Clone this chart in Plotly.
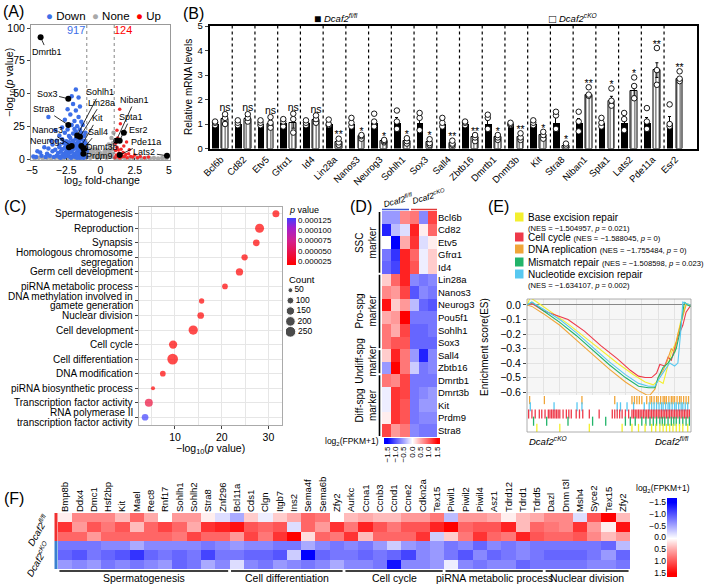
import plotly.graph_objects as go

W, H = 709, 584
FONT = "Liberation Sans, Arial, sans-serif"


def fx(x):
    return x / W


def fy(y):
    return 1 - y / H


def xd(a, b):
    return [a / W, b / W]


def yd(top, bottom):
    return [1 - bottom / H, 1 - top / H]


BLUE = "#3d6fe8"
RED = "#f42a2a"
GREY = "#a9a9a9"
HEAT = [[0, "#0000ff"], [0.5, "#ffffff"], [1, "#ff0000"]]
FLFL = "<i>Dcaf2</i><sup><i>fl/fl</i></sup>"
CKO = "<i>Dcaf2</i><sup><i>cKO</i></sup>"

# ---------------- (A) volcano ----------------
down_pts = [(-4.7, 1.5), (-4.3, 2.5), (-4.0, 1.5), (-3.7, 2.5), (-3.4, 1.5), (-3.2, 2.5), (-3.0, 1.5), (-2.8, 2.5),
            (-2.6, 1.5), (-2.4, 2.5), (-2.2, 1.5), (-2.0, 2.5), (-1.8, 1.5), (-1.6, 2.5), (-1.4, 1.5), (-1.2, 2.5),
            (-1.05, 1.5), (-4.4, 5), (-3.9, 4), (-3.5, 6), (-3.1, 4.5), (-2.9, 5.5), (-2.7, 4), (-2.5, 6),
            (-2.3, 4.5), (-2.1, 5.5), (-1.9, 4), (-1.7, 6), (-1.5, 4.5), (-1.3, 5.5), (-1.1, 4), (-3.8, 8),
            (-3.3, 7), (-3.0, 9), (-2.8, 7.5), (-2.6, 8.5), (-2.4, 7), (-2.2, 9), (-2.0, 7.5), (-1.8, 8.5),
            (-1.6, 7), (-1.4, 9), (-1.2, 7.5), (-1.05, 8.5), (-3.5, 11), (-3.0, 10.5), (-2.7, 12), (-2.5, 10),
            (-2.3, 11.5), (-2.1, 10.5), (-1.9, 12), (-1.7, 10), (-1.5, 11.5), (-1.3, 10.5), (-1.1, 12),
            (-3.2, 14), (-2.8, 15), (-2.5, 13.5), (-2.2, 16), (-2.0, 14), (-1.8, 15.5), (-1.6, 13.5), (-1.4, 15),
            (-1.2, 14), (-3.0, 18), (-2.6, 20), (-2.3, 17.5), (-2.0, 19.5), (-1.8, 21), (-1.6, 18), (-1.4, 20),
            (-1.2, 17.5), (-2.8, 24), (-2.4, 22.5), (-2.1, 26), (-1.9, 23), (-1.7, 25), (-1.5, 22.5), (-1.3, 26),
            (-3.8, 32), (-2.6, 30), (-2.2, 34), (-1.9, 29), (-1.6, 32), (-1.4, 28.5), (-2.4, 38), (-2.0, 42),
            (-1.8, 37), (-1.5, 40), (-2.1, 48), (-1.8, 53), (-1.6, 47), (-4.9, 2), (-4.6, 6), (-4.1, 9),
            (-3.6, 14), (-3.3, 22), (-1.1, 20), (-1.0, 6), (-2.9, 1), (-1.5, 1), (-1.9, 11), (-2.45, 13),
            (-1.25, 12), (-2.35, 3), (-2.15, 6.5), (-1.95, 2), (-1.75, 4), (-1.55, 9.5), (-1.35, 3.5), (-1.15, 6),
            (-2.55, 3.5), (-1.65, 12.5), (-1.45, 6.5), (-2.05, 8.3), (-1.85, 10.8), (-2.25, 12.8), (-1.25, 1),
            (-1.7, 1), (-2.15, 1)]
none_pts = [(-4.8, 0.5), (-4.5, 1), (-4.2, 0.5), (-3.9, 0.8), (-3.6, 0.4), (-3.3, 0.9), (-3.0, 0.5), (-2.7, 0.3),
            (-2.4, 0.8), (-2.1, 0.4), (-1.8, 0.6), (-1.5, 0.3), (-1.2, 0.7), (1.2, 0.5), (1.5, 0.9), (1.8, 0.4),
            (2.1, 0.8), (2.4, 0.5), (2.7, 0.9), (3.0, 0.4), (3.3, 0.7), (3.6, 0.5), (3.9, 0.8), (4.2, 0.4),
            (4.5, 0.7), (4.8, 0.5), (-0.95, 2), (-0.85, 5), (-0.75, 1), (-0.65, 3.5), (-0.55, 6), (-0.45, 2),
            (-0.35, 4), (-0.25, 1), (-0.15, 3), (-0.05, 5), (0.05, 1.5), (0.15, 3.5), (0.25, 2), (0.35, 4.5),
            (0.45, 1), (0.55, 3), (0.65, 5.5), (0.75, 2), (0.85, 4), (0.95, 1.5), (-0.9, 8), (-0.7, 7),
            (-0.4, 7.5), (0.4, 7), (0.7, 9), (0.9, 12), (0.8, 16), (0.95, 20), (0.6, 11), (-0.95, 11),
            (0.85, 7.5), (0.3, 6), (-0.2, 6.5)]
up_pts = [(1.05, 1), (1.15, 3), (1.25, 2), (1.35, 4.5), (1.45, 1.5), (1.55, 3), (1.65, 5), (1.75, 2), (1.85, 3.5),
          (1.95, 1), (2.05, 4), (2.2, 2), (2.35, 1.5), (2.5, 3), (2.7, 1), (2.9, 2), (3.2, 1), (3.5, 1.5),
          (1.1, 6.5), (1.2, 9), (1.3, 7), (1.5, 7.5), (1.7, 10), (1.9, 13), (1.1, 12), (1.25, 16), (1.45, 27),
          (1.4, 38), (1.2, 22), (2.1, 7), (1.6, 2), (1.4, 0.8)]
n_down, n_up = 917, 124
fc_cut = 1

lab_genes = ["Dmrtb1", "Sox3", "Stra8", "Nanos3", "Neurog3", "Sohlh1", "Lin28a", "Kit", "Sall4", "Dnmt3b",
             "Prdm9", "Niban1", "Spta1", "Esr2", "Pde11a", "Lats2"]
lab_fc = [-4.37, -2.35, -2.35, -2.1, -2.3, -1.7, -1.5, -1.4, -1.25, -1.15, -1.25, 1.15, 1.4, 1.7, 1.4, 4.85]
lab_lp = [93, 46, 26, 10, 9, 18, 17, 10, 8, 8, 4, 14, 14, 20, 3, 2.5]
lab_tx = [-3.9, -3.9, -4.1, -3.9, -3.85, -0.05, 0.05, -0.25, -0.2, 0.1, -0.1, 2.5, 2.2, 2.75, 3.3, 3.2]
lab_ty = [82, 50, 38, 22, 14, 51, 43, 31, 21, 9, 2, 45, 32, 22, 13, 5]

# ---------------- (B) qPCR ----------------
genes_b = ["Bcl6b", "Cd82", "Etv5", "Gfrα1", "Id4", "Lin28a", "Nanos3", "Neurog3", "Sohlh1", "Sox3", "Sall4",
           "Zbtb16", "Dmrtb1", "Dnmt3b", "Kit", "Stra8", "Niban1", "Spta1", "Lats2", "Pde11a", "Esr2"]
wt_mean = [1.02, 1.0, 1.02, 1.03, 1.03, 1.02, 1.02, 1.05, 1.03, 1.05, 1.02, 1.02, 1.0, 1.0, 1.02, 1.05, 1.03,
           1.03, 1.05, 1.05, 1.05]
wt_err = [0.05, 0.06, 0.06, 0.08, 0.06, 0.07, 0.1, 0.12, 0.22, 0.2, 0.1, 0.05, 0.15, 0.03, 0.06, 0.2, 0.2, 0.1,
          0.22, 0.2, 0.25]
ko_mean = [1.2, 1.22, 0.98, 1.05, 1.15, 0.25, 0.5, 0.3, 0.3, 0.25, 0.22, 0.45, 0.45, 0.48, 0.55, 0.12, 2.2, 1.95,
           2.35, 3.2, 2.85]
ko_err = [0.1, 0.1, 0.1, 0.22, 0.08, 0.08, 0.05, 0.03, 0.07, 0.07, 0.05, 0.08, 0.06, 0.08, 0.1, 0.05, 0.05, 0.18,
          0.2, 0.3, 0.05]
wt_pts = [[0.95, 1.05, 1.1], [0.95, 1.05, 1.15], [0.95, 1.05, 1.15], [0.9, 1.1, 1.2], [0.95, 1.05, 1.15],
          [0.95, 1.0, 1.18], [0.9, 1.05, 1.25], [0.9, 1.1, 1.42], [0.8, 1.1, 1.55], [0.75, 1.25, 1.45],
          [0.9, 1.05, 1.25], [0.95, 1.05, 1.1], [0.8, 1.25, 1.38], [0.95, 1.0, 1.05], [0.95, 1.05, 1.15],
          [0.8, 1.35, 1.5], [0.7, 1.1, 1.5], [0.9, 1.05, 1.25], [0.75, 1.2, 1.45], [0.8, 1.1, 1.65],
          [0.9, 1.0, 1.8]]
ko_pts = [[1.0, 1.25, 1.4], [1.1, 1.25, 1.4], [0.85, 1.05, 1.28], [0.65, 1.2, 1.42], [1.05, 1.2, 1.35],
          [0.15, 0.25, 0.4], [0.4, 0.5, 0.55], [0.25, 0.3, 0.35], [0.2, 0.3, 0.42], [0.15, 0.22, 0.38],
          [0.15, 0.2, 0.32], [0.3, 0.45, 0.55], [0.35, 0.45, 0.55], [0.35, 0.45, 0.62], [0.4, 0.55, 0.68],
          [0.05, 0.12, 0.2], [2.15, 2.2, 2.5], [1.75, 1.95, 2.45], [2.05, 2.55, 2.9], [2.6, 3.2, 4.1],
          [2.75, 2.85, 3.15]]
sig = ["ns", "ns", "ns", "ns", "ns", "**", "*", "*", "*", "*", "**", "**", "*", "**", "*", "*", "**", "*", "*",
       "**", "**"]

# ---------------- (C) GO dot plot ----------------
go_terms = ["Spermatogenesis", "Reproduction", "Synapsis", "Homologous chromosome<br>segregation",
            "Germ cell development", "piRNA metabolic process", "DNA methylation involved in<br>gamete generation",
            "Nuclear division", "Cell development", "Cell cycle", "Cell differentiation", "DNA modification",
            "piRNA biosynthetic process", "Transcription factor activity",
            "RNA polymerase II<br>transcription factor activity"]
go_logp = [31.6, 28.1, 27.4, 24.9, 23.8, 20.7, 15.7, 15.5, 13.9, 9.6, 9.5, 7.4, 5.3, 4.4, 3.6]
go_count = [106, 175, 97, 86, 115, 70, 61, 97, 187, 149, 248, 70, 35, 138, 97]
go_p = [2.5e-32, 7.9e-29, 4e-28, 1.3e-25, 1.6e-24, 2e-21, 2e-16, 3.2e-16, 1.3e-14, 2.5e-10, 3.2e-10, 4e-8, 5e-6,
        4e-5, 2.5e-4]
p_ticks = [0.000025, 0.00005, 0.000075, 0.0001, 0.000125]
count_ticks = [50, 100, 150, 200, 250]

# ---------------- (D) marker heatmap ----------------
d_genes = ["Bcl6b", "Cd82", "Etv5", "Gfrα1", "Id4", "Lin28a", "Nanos3", "Neurog3", "Pou5f1", "Sohlh1", "Sox3",
           "Sall4", "Zbtb16", "Dmrtb1", "Dmrt3b", "Kit", "Prdm9", "Stra8"]
d_samples = ["fl1", "fl2", "fl3", "ko1", "ko2", "ko3"]
d_z = [[-0.6, -0.6, 0.7, 0.8, -0.7, 1.1],
       [-1.3, -0.4, -0.2, 1.3, 0.1, 0.9],
       [0.0, -1.5, 0.5, 1.2, -0.2, 0.1],
       [-0.8, -1.2, 1.3, 0.9, -0.1, 0.3],
       [-0.9, -1.1, 1.3, 1.0, -0.1, 0.3],
       [0.3, 0.9, 1.3, -0.7, -0.8, -0.7],
       [0.7, 0.6, 1.1, -1.0, -0.7, -0.8],
       [1.4, 0.3, 0.6, -0.4, -0.9, -1.0],
       [0.5, 0.6, 1.5, -0.8, -0.8, -0.8],
       [0.8, 0.5, 1.1, -0.9, -0.9, -0.8],
       [0.8, 1.0, 1.0, -0.9, -0.9, -0.9],
       [0.3, 1.3, 0.8, -0.6, -1.3, -0.7],
       [-0.6, 1.5, 0.8, -0.3, -0.8, -0.7],
       [0.8, 0.7, 1.1, -0.8, -0.8, -0.8],
       [-0.1, 1.2, 1.1, -0.8, -0.7, -0.6],
       [-0.1, 1.2, 1.0, -0.8, -0.6, -0.6],
       [0.1, 1.2, 1.0, -0.8, -0.7, -0.7],
       [1.1, 0.6, 0.8, -0.7, -0.8, -0.8]]
d_groups = ["SSC", "Pro-spg", "Undiff-spg", "Diff-spg"]
d_group_size = [5, 6, 2, 5]
cbar_ticks = [-1.5, -1.0, -0.5, 0.0, 0.5, 1.0, 1.5]

# ---------------- (E) GSEA ----------------
e_paths = ["Base excision repair", "Cell cycle", "DNA replication", "Mismatch repair", "Nucleotide excision repair"]
e_nes = [-1.504957, -1.588045, -1.755484, -1.508598, -1.634107]
e_p = ["0.021", "0", "0", "0.023", "0.002"]
e_colors = ["#f3ef2e", "#ee3a4a", "#f0a538", "#22b46a", "#58c8f0"]
es_rank = [
    [0, 2, 6, 15, 25, 35, 45, 55, 65, 72, 77, 80, 83, 86, 88, 91, 94, 97, 100],
    [0, 3, 10, 18, 25, 35, 45, 55, 63, 68, 72, 76, 79, 81, 84, 86, 88, 90, 92, 95, 97, 100],
    [0, 3, 10, 20, 30, 40, 50, 60, 68, 73, 75, 78, 80, 83, 85, 88, 90, 92, 95, 97, 100],
    [0, 3, 10, 20, 30, 40, 50, 60, 68, 74, 78, 80, 83, 86, 89, 91, 93, 95, 96, 98, 100],
    [0, 3, 10, 20, 30, 40, 50, 60, 68, 74, 78, 81, 84, 87, 90, 92, 94, 95, 97, 100]]
es_val = [
    [0, 0.05, 0.02, -0.05, -0.13, -0.22, -0.31, -0.4, -0.48, -0.53, -0.55, -0.52, -0.54, -0.42, -0.33, -0.25,
     -0.1, 0.01, 0.0],
    [0, 0.01, -0.04, -0.07, -0.1, -0.18, -0.28, -0.37, -0.45, -0.49, -0.5, -0.5, -0.47, -0.41, -0.42, -0.36,
     -0.38, -0.3, -0.22, -0.14, -0.05, 0.0],
    [0, -0.01, -0.06, -0.14, -0.24, -0.34, -0.44, -0.53, -0.59, -0.62, -0.62, -0.58, -0.5, -0.45, -0.4, -0.3,
     -0.33, -0.2, -0.08, 0.0, 0.0],
    [0, 0.02, -0.04, -0.12, -0.21, -0.31, -0.41, -0.5, -0.56, -0.57, -0.57, -0.5, -0.43, -0.4, -0.35, -0.3, -0.2,
     -0.05, 0.02, 0.0, -0.01],
    [0, 0.02, -0.03, -0.1, -0.19, -0.29, -0.39, -0.48, -0.54, -0.56, -0.56, -0.5, -0.45, -0.4, -0.42, -0.4,
     -0.15, 0.02, 0.01, 0.0]]
rug_order = [2, 4, 1, 3, 0]
rug_hits = [
    [1.6, 10.6, 33.5, 53.5, 64, 65.5, 67, 68.5, 70, 73, 75, 76, 77.5, 79, 80, 81.5, 83, 84, 85, 86.5, 88, 89, 90,
     91.5, 93, 94, 95.5, 97, 98.5],
    [2, 16.5, 30.5, 33.5, 55, 57, 61, 65, 71.5, 74.5, 76, 77.5, 79, 80.5, 82, 83, 84.5, 86, 87, 88.5, 90, 91,
     92.5, 94, 95, 96.5, 98],
    [1, 3, 5, 7.5, 9, 11, 13, 14, 15, 16, 17, 18, 19, 20, 22, 24, 25.5, 27, 30, 32, 34, 38, 44, 52, 53.5, 55,
     56.5, 58, 60, 62, 64, 65, 66, 67, 68, 69, 70, 71, 72, 73, 74, 75, 76, 77, 78, 79, 80, 81, 82, 83, 84, 85,
     86, 87, 88, 89, 90, 91, 92, 93, 94, 95, 96, 97, 98, 99],
    [4, 12, 25, 40, 48, 60, 63, 66, 70, 72.5, 75, 77, 79, 81, 82.5, 84, 86, 88, 89.5, 91, 93, 95, 97, 99],
    [6, 20, 38, 58, 64, 68, 72, 76, 78.5, 81, 83, 85, 87, 89, 91, 93, 95, 98]]

# ---------------- (F) heatmap ----------------
f_genes = ["Bmp8b", "Ddx4", "Dmc1", "Hsf2bp", "Kit", "Mael", "Rec8", "Rnf17", "Sohlh1", "Sohlh2", "Stra8", "Znf296",
           "Bcl11a", "Cds1", "Clgn", "Itgb7", "Ins2", "Sema4f", "Sema6b", "Zfy2", "Aurkc", "Ccna1", "Ccnb3", "Ccnd1",
           "Ccne2", "Cdkn2a", "Tex15", "Piwil1", "Piwil2", "Piwil4", "Asz1", "Tdrd12", "Tdrd1", "Tdrd5", "Dazl",
           "Dnm t3l", "Msh4", "Syce2", "Tex15", "Zfy2"]
f_z = [[0.1, 0.7, 0.7, 0.7, 0.4, 0.9, 0.5, 0.0, 0.6, 0.6, 0.1, -0.2, -0.5, 0.3, -0.1, 0.3, 0.5, 0.9, 0.8, 0.0,
        0.4, 0.5, 0.4, 0.4, 0.6, 0.6, 0.8, -0.4, 0.6, 0.6, 0.5, 0.1, 0.4, 0.5, 0.7, 0.7, -0.2, 1.0, 1.5, 0.4],
       [1.2, 0.6, 1.0, 0.8, 1.0, 0.4, 0.9, 1.1, 0.9, 0.5, 1.2, 1.3, 1.4, 1.0, 0.9, 1.0, -0.2, 0.9, 0.6, 1.2,
        0.8, 1.3, 1.0, 0.8, 1.0, 1.0, 1.3, 1.5, 0.9, 1.0, 1.0, 1.3, 0.4, 0.9, 0.8, 0.7, 1.2, 0.6, 0.1, 1.4],
       [0.9, 0.9, 0.6, 0.9, 0.9, 0.9, 0.9, 0.9, 0.8, 1.1, 0.9, 0.9, 0.6, 1.1, 0.8, 1.2, 1.5, 0.2, 0.9, 0.8,
        1.2, 0.4, 0.9, 0.9, 0.9, 1.2, -0.3, 0.3, 0.8, 1.2, 0.9, 0.8, 1.3, 1.0, 0.9, 0.9, 1.0, 0.7, 0.4, 0.6],
       [-0.8, -0.8, -0.8, -0.7, -0.7, -0.5, -0.7, -0.7, -0.7, -0.7, -0.8, -0.7, -0.6, -0.7, -0.7, -0.8, -0.8, -0.5,
        -0.7, -0.8, -0.7, -0.8, -0.6, -0.3, -0.6, -0.7, -0.6, -0.8, -0.7, -0.9, -0.7, -0.8, -0.7, -0.8, -0.8, -0.8,
        -0.8, -0.8, -0.9, -0.4],
       [-0.9, -1.0, -0.8, -0.9, -1.0, -1.2, -0.9, -0.8, -0.9, -0.8, -1.1, -0.8, -0.8, -0.9, -0.9, -1.0, -0.3, -1.5,
        -0.9, -0.8, -0.8, -0.9, -0.8, -0.9, -1.1, -0.7, -0.6, -0.8, -1.0, -0.7, -0.9, -0.8, -0.7, -0.8, -0.9, -0.9,
        -0.9, -0.8, -0.6, -0.9],
       [-0.6, -0.7, -0.6, -0.8, -0.7, -0.8, -0.7, -0.6, -0.9, -0.8, -0.5, -0.7, -0.2, -0.7, -0.8, -0.6, -0.7, -0.8,
        -0.7, -0.5, -0.7, -0.7, -0.8, -1.4, -0.7, -0.7, -0.6, -0.1, -0.7, -0.8, -0.7, -0.7, -0.9, -0.8, -0.8, -0.8,
        -0.8, -0.7, -0.7, -0.8]]
f_groups = ["Spermatogenesis", "Cell differentiation", "Cell cycle", "piRNA metabolic process", "Nuclear division"]
f_group_size = [12, 8, 7, 7, 6]

fig = go.Figure()
annotations = []
shapes = []


def text(x, y, s, size=10, color="black", xanchor="center", yanchor="middle", angle=0):
    annotations.append(dict(x=fx(x), y=fy(y), xref="paper", yref="paper", text=s, showarrow=False,
                            font=dict(size=size, color=color, family=FONT), xanchor=xanchor, yanchor=yanchor,
                            textangle=angle))


# ---- A traces
fig.add_trace(go.Scatter(x=[p[0] for p in none_pts], y=[p[1] for p in none_pts], mode="markers",
                         marker=dict(color=GREY, size=4.5), xaxis="x", yaxis="y"))
fig.add_trace(go.Scatter(x=[p[0] for p in down_pts], y=[p[1] for p in down_pts], mode="markers",
                         marker=dict(color=BLUE, size=4.5), xaxis="x", yaxis="y"))
fig.add_trace(go.Scatter(x=[p[0] for p in up_pts], y=[p[1] for p in up_pts], mode="markers",
                         marker=dict(color=RED, size=3.5), xaxis="x", yaxis="y"))
fig.add_trace(go.Scatter(x=lab_fc, y=lab_lp, mode="markers", marker=dict(color="black", size=6),
                         xaxis="x", yaxis="y"))
for g, x, y, tx, ty in zip(lab_genes, lab_fc, lab_lp, lab_tx, lab_ty):
    annotations.append(dict(x=x, y=y, ax=tx, ay=ty, xref="x", yref="y", axref="x", ayref="y", text=g,
                            showarrow=True, arrowhead=0, arrowwidth=0.8, arrowcolor="black",
                            font=dict(size=9, family=FONT, color="black")))
for v in (-fc_cut, fc_cut):
    shapes.append(dict(type="line", xref="x", yref="y domain", x0=v, x1=v, y0=0, y1=1,
                       line=dict(color="#666", width=0.8, dash="dot")))
text(1, 12, "(A)", 16, xanchor="left")
text(44, 16, f"<span style='color:{BLUE}'>●</span> Down  <span style='color:{GREY}'>●</span> None  "
             f"<span style='color:red'>●</span> Up", 11.5, xanchor="left")
text(76, 30, str(n_down), 11, BLUE)
text(123, 30, str(n_up), 11, "red")
text(10, 83, "−log<sub>10</sub>(<i>p</i> value)", 10.5, angle=-90)
text(102, 181, "log<sub>2</sub> fold-change", 10.5)

# ---- B traces
idx = list(range(len(genes_b)))
fig.add_trace(go.Bar(x=idx, y=wt_mean, width=0.29, offset=-0.4, marker=dict(color="black", line=dict(width=0)),
                     error_y=dict(type="data", array=wt_err, color="black", thickness=1, width=1.5),
                     xaxis="x2", yaxis="y2"))
fig.add_trace(go.Bar(x=idx, y=ko_mean, width=0.29, offset=0.04,
                     marker=dict(color="white", line=dict(color="black", width=1),
                                 pattern=dict(shape="|", fgcolor="black", bgcolor="white", size=3.5,
                                              solidity=0.22)),
                     error_y=dict(type="data", array=ko_err, color="black", thickness=1, width=1.5),
                     xaxis="x2", yaxis="y2"))
px_wt, py_wt, px_ko, py_ko = [], [], [], []
for i in idx:
    for v in wt_pts[i]:
        px_wt.append(i - 0.255)
        py_wt.append(v)
    for v in ko_pts[i]:
        px_ko.append(i + 0.185)
        py_ko.append(v)
fig.add_trace(go.Scatter(x=px_wt + px_ko, y=py_wt + py_ko, mode="markers",
                         marker=dict(symbol="circle", color="white", size=5.5, line=dict(color="black", width=0.9)),
                         xaxis="x2", yaxis="y2"))
fig.add_trace(go.Scatter(x=[i + 0.185 for i in idx], y=[max(p) + (0.22 if s == "ns" else 0.12) for p, s in
                                                        zip(ko_pts, sig)],
                         mode="text", text=sig, textfont=dict(size=10.5, family=FONT, color="black"),
                         xaxis="x2", yaxis="y2"))
for i in idx[:-1]:
    shapes.append(dict(type="line", xref="x2", yref="y2 domain", x0=i + 0.5, x1=i + 0.5, y0=0, y1=1,
                       line=dict(color="black", width=1.2, dash="3px,3px")))
text(181, 13, "(B)", 16, xanchor="left")
text(312, 19, "■", 12, xanchor="left")
text(322, 18, FLFL, 9.5, xanchor="left")
text(547, 19, "□", 12, xanchor="left")
text(557, 18, CKO, 9.5, xanchor="left")
text(189, 87, "Relative mRNA levels", 10, angle=-90)

# ---- C traces
fig.add_trace(go.Scatter(x=go_logp, y=list(range(len(go_terms))), mode="markers",
                         marker=dict(size=[0.68 * c ** 0.5 for c in go_count], color=go_p, cmin=0.000015,
                                     cmax=0.00013,
                                     colorscale=[[0, "#ff0000"], [0.5, "#d6208a"], [0.8, "#a020d0"],
                                                 [1, "#4040ff"]],
                                     line=dict(width=0),
                                     colorbar=dict(x=fx(287), xanchor="left", y=fy(241.5), yanchor="middle",
                                                   len=47, lenmode="pixels", thickness=9, outlinewidth=0,
                                                   tickvals=p_ticks, ticktext=[f"{t:.6f}" for t in p_ticks],
                                                   tickfont=dict(size=8, family=FONT), ticks="", ypad=0,
                                                   xpad=0)),
                         xaxis="x3", yaxis="y3"))
# term labels drawn line by line so two-line terms keep the tight spacing of the original
for k, term in enumerate(go_terms):
    lines = term.split("<br>")
    for j, line in enumerate(lines):
        shift = (j - (len(lines) - 1) / 2) * 0.66
        annotations.append(dict(x=fx(135), y=k + shift, xref="paper", yref="y3", text=line, showarrow=False,
                                xanchor="right", yanchor="middle",
                                font=dict(size=10, family=FONT, color="black")))
fig.add_trace(go.Scatter(x=[0.1] * len(count_ticks), y=[str(c) for c in count_ticks], mode="markers+text",
                         marker=dict(size=[0.68 * c ** 0.5 for c in count_ticks], color="black"),
                         text=[str(c) for c in count_ticks], textposition="middle right",
                         textfont=dict(size=8.5, family=FONT), xaxis="x10", yaxis="y10"))
text(2, 207, "(C)", 16, xanchor="left")
text(287, 210, "<i>p</i> value", 9, xanchor="left")
text(287, 280, "Count", 9.5, xanchor="left")
text(210, 449, "−log<sub>10</sub>(<i>p</i> value)", 10.5)

# ---- D traces
fig.add_trace(go.Heatmap(z=d_z, x=d_samples, y=d_genes, colorscale=HEAT, zmin=-1.5, zmax=1.5, showscale=False,
                         xaxis="x4", yaxis="y4"))
fig.add_trace(go.Heatmap(z=[cbar_ticks, cbar_ticks], x=cbar_ticks, y=[0, 1], colorscale=HEAT, zmin=-1.5,
                         zmax=1.5, zsmooth="best", showscale=False, xaxis="x9", yaxis="y9"))
start = 0
for name, n in zip(d_groups, d_group_size):
    end = start + n - 1
    shapes.append(dict(type="line", xref="paper", yref="y4", x0=fx(379.5), x1=fx(379.5), y0=start - 0.42,
                       y1=end + 0.42, line=dict(color="black", width=1.6)))
    annotations.append(dict(x=fx(366), y=(start + end) / 2, xref="paper", yref="y4", text=f"{name}<br>marker",
                            showarrow=False, textangle=-90, font=dict(size=10, family=FONT, color="black")))
    start = end + 1
shapes.append(dict(type="line", xref="paper", yref="paper", x0=fx(382), x1=fx(409), y0=fy(209.5), y1=fy(209.5),
                   line=dict(color="#3a55d0", width=1.5)))
shapes.append(dict(type="line", xref="paper", yref="paper", x0=fx(411), x1=fx(437), y0=fy(209.5), y1=fy(209.5),
                   line=dict(color="#e03a3a", width=1.5)))
text(348, 207, "(D)", 16, xanchor="left")
text(398, 200, FLFL, 8.5, angle=-15)
text(429, 197, CKO, 8.5, angle=-15)
text(381, 441, "log<sub>2</sub>(FPKM+1)", 8.5, xanchor="right")

# ---- E traces
for r, v, c in zip(es_rank, es_val, e_colors):
    fig.add_trace(go.Scatter(x=r, y=v, mode="lines", line=dict(color=c, width=1.1), xaxis="x5", yaxis="y5"))
for row, k in enumerate(rug_order):
    fig.add_trace(go.Scatter(x=rug_hits[row], y=[row] * len(rug_hits[row]), mode="markers",
                             marker=dict(symbol="line-ns", size=6.5, line=dict(color=e_colors[k], width=1.3)),
                             xaxis="x6", yaxis="y6"))
shapes.append(dict(type="rect", xref="paper", yref="paper", x0=fx(527), x1=fx(691), y0=fy(395), y1=fy(299),
                   fillcolor="#f6f6f6", line=dict(width=0), layer="below"))
shapes.append(dict(type="rect", xref="paper", yref="paper", x0=fx(527), x1=fx(691), y0=fy(432), y1=fy(299),
                   line=dict(color="#9a9a9a", width=0.8)))
text(486, 207, "(E)", 16, xanchor="left")
leg_y = [217, 237, 249, 262, 274]
for k, (name, nes, p, c) in enumerate(zip(e_paths, e_nes, e_p, e_colors)):
    y = leg_y[k]
    shapes.append(dict(type="rect", xref="paper", yref="paper", x0=fx(515), x1=fx(523.5), y0=fy(y + 4.5),
                       y1=fy(y - 4.5), fillcolor=c, line=dict(width=0)))
    sub = f"(NES = −{abs(nes):.6f}, <i>p</i> = {p})"
    if k in (0, 4):
        text(526, y, name, 10, xanchor="left")
        text(526, y + 11, sub, 7.6, xanchor="left")
    else:
        text(526, y, f"{name} <span style='font-size:7.6px'>{sub}</span>", 10, xanchor="left")
text(484, 347, "Enrichment score(ES)", 10, angle=-90)
text(527, 441, CKO, 9.5, xanchor="left")
text(691, 441, FLFL, 9.5, xanchor="right")

# ---- F traces
fig.add_trace(go.Heatmap(z=f_z, x=list(range(len(f_genes))), y=list(range(len(f_z))), colorscale=HEAT,
                         zmin=-1.5, zmax=1.5, showscale=False, xaxis="x7", yaxis="y7"))
fig.add_trace(go.Heatmap(z=[[v, v] for v in cbar_ticks], x=[0, 1], y=cbar_ticks, colorscale=HEAT, zmin=-1.5,
                         zmax=1.5, zsmooth="best", showscale=False, xaxis="x8", yaxis="y8"))
shapes.append(dict(type="line", xref="paper", yref="y7", x0=fx(56), x1=fx(56), y0=-0.5, y1=2.5,
                   line=dict(color="#f03030", width=3)))
shapes.append(dict(type="line", xref="paper", yref="y7", x0=fx(56), x1=fx(56), y0=2.5, y1=5.5,
                   line=dict(color="#3a80d0", width=3)))
start = 0
for name, n in zip(f_groups, f_group_size):
    end = start + n - 1
    shapes.append(dict(type="line", xref="x7", yref="paper", x0=start - 0.4, x1=end + 0.4, y0=fy(571),
                       y1=fy(571), line=dict(color="black", width=1.6)))
    annotations.append(dict(x=(start + end) / 2, y=fy(578), xref="x7", yref="paper", text=name, showarrow=False,
                            yanchor="middle", font=dict(size=10.5, family=FONT, color="black")))
    start = end + 1
text(2, 498, "(F)", 16, xanchor="left")
text(38, 530, FLFL, 9.5, angle=-60)
text(38, 559, CKO, 9.5, angle=-60)
text(663, 488, "log<sub>2</sub>(FPKM+1)", 8.5)

AX = dict(showgrid=False, zeroline=False, automargin=False,
          tickfont=dict(size=10, family=FONT, color="black"))
fig.update_layout(
    template="none",
    width=W, height=H, margin=dict(l=0, r=0, t=0, b=0, autoexpand=False), showlegend=False,
    paper_bgcolor="white", plot_bgcolor="rgba(0,0,0,0)",
    font=dict(family=FONT, color="black"), bargap=0,
    annotations=annotations, shapes=shapes,
    # A
    xaxis=dict(AX, domain=xd(31, 170), range=[-5.07, 5.07], anchor="y", tickvals=[-5, -2.5, 0, 2.5, 5],
               ticks="inside", ticklen=2, showline=True, mirror=True, linecolor="#999", tickfont=dict(size=10.5)),
    yaxis=dict(AX, domain=yd(25, 160), range=[-0.76, 102.3], anchor="x", tickvals=[0, 25, 50, 75, 100],
               ticks="outside", ticklen=3, showline=True, mirror=True, linecolor="#999", tickfont=dict(size=10.5)),
    # B
    xaxis2=dict(AX, domain=xd(209.5, 697), range=[-0.5, 20.95], anchor="y2", tickvals=idx, ticktext=genes_b,
                tickangle=-45, ticks="", showline=True, mirror=True, linecolor="black", linewidth=1.5,
                tickfont=dict(size=9.5)),
    yaxis2=dict(AX, domain=yd(26, 148.5), range=[0, 5], anchor="x2", dtick=1, ticks="outside", ticklen=3,
                showline=True, mirror=True, linecolor="black", linewidth=1.5, tickfont=dict(size=9.5)),
    # C
    xaxis3=dict(AX, domain=xd(139, 282), range=[2.3, 32.9], anchor="y3", tickvals=[10, 20, 30], showgrid=True,
                gridcolor="#e6e6e6", ticks="outside", ticklen=3, showline=True, mirror=True, linecolor="#aaa",
                minor=dict(dtick=5, tick0=0, showgrid=True, gridcolor="#e6e6e6"), tickfont=dict(size=10.5)),
    yaxis3=dict(AX, domain=yd(206.5, 424.5), range=[14.5, -0.5], anchor="x3",
                tickvals=list(range(len(go_terms))), showticklabels=False, showgrid=True, gridcolor="#e6e6e6",
                ticks="outside", ticklen=3, showline=True, mirror=True, linecolor="#aaa"),
    xaxis10=dict(AX, domain=xd(286, 330), range=[0, 1], anchor="y10", visible=False),
    yaxis10=dict(AX, domain=yd(285, 337), range=[4.5, -0.5], anchor="x10", type="category", visible=False),
    # D
    xaxis4=dict(AX, domain=xd(382, 437), anchor="y4", showticklabels=False, ticks=""),
    yaxis4=dict(AX, domain=yd(211, 437), anchor="x4", autorange="reversed", side="right", ticks="",
                tickfont=dict(size=9.5)),
    xaxis9=dict(AX, domain=xd(384, 440), range=[-1.68, 1.68], anchor="y9", tickvals=cbar_ticks,
                ticktext=[f"{t:.1f}".replace("-", "−") for t in cbar_ticks], tickangle=-90, ticks="",
                tickfont=dict(size=8)),
    yaxis9=dict(AX, domain=yd(438, 444), range=[0, 1], anchor="x9", visible=False),
    # E
    xaxis5=dict(AX, domain=xd(527, 691), range=[0, 100], anchor="y5", showticklabels=False, ticks="",
                showgrid=True, gridcolor="#e3e3e3", dtick=10),
    yaxis5=dict(AX, domain=yd(299, 395), range=[-0.62, 0.041], anchor="x5", tickvals=[0, -0.1, -0.2, -0.3, -0.4,
                                                                                   -0.5, -0.6],
                tickformat=".1f", ticks="outside", ticklen=3, showgrid=True, gridcolor="#e3e3e3",
                zeroline=True, zerolinecolor="#888", zerolinewidth=1, tickfont=dict(size=10.5)),
    xaxis6=dict(AX, domain=xd(527, 691), range=[0, 100], anchor="y6", visible=False),
    yaxis6=dict(AX, domain=yd(396, 432), range=[4.5, -0.5], anchor="x6", visible=False),
    # F
    xaxis7=dict(AX, domain=xd(58, 630), range=[-0.5, len(f_genes) - 0.5], anchor="y7", side="top",
                tickvals=list(range(len(f_genes))), ticktext=f_genes, tickangle=-90, ticks="",
                tickfont=dict(size=9.5)),
    yaxis7=dict(AX, domain=yd(513, 569), range=[5.5, -0.5], anchor="x7", visible=False),
    xaxis8=dict(AX, domain=xd(667, 677), range=[-0.5, 1.5], anchor="y8", visible=False),
    yaxis8=dict(AX, domain=yd(498, 577), range=[1.65, -1.65], anchor="x8", side="left", tickvals=cbar_ticks,
                ticktext=[f"{t:.1f}".replace("-", "−") for t in cbar_ticks], ticks="", tickfont=dict(size=8.5)),
)

# page body has a default 8px margin; drop it so the figure sits at the window's corner
fig.write_html("out.html", config={"displayModeBar": False},
               post_script="document.body.style.margin='0';")
